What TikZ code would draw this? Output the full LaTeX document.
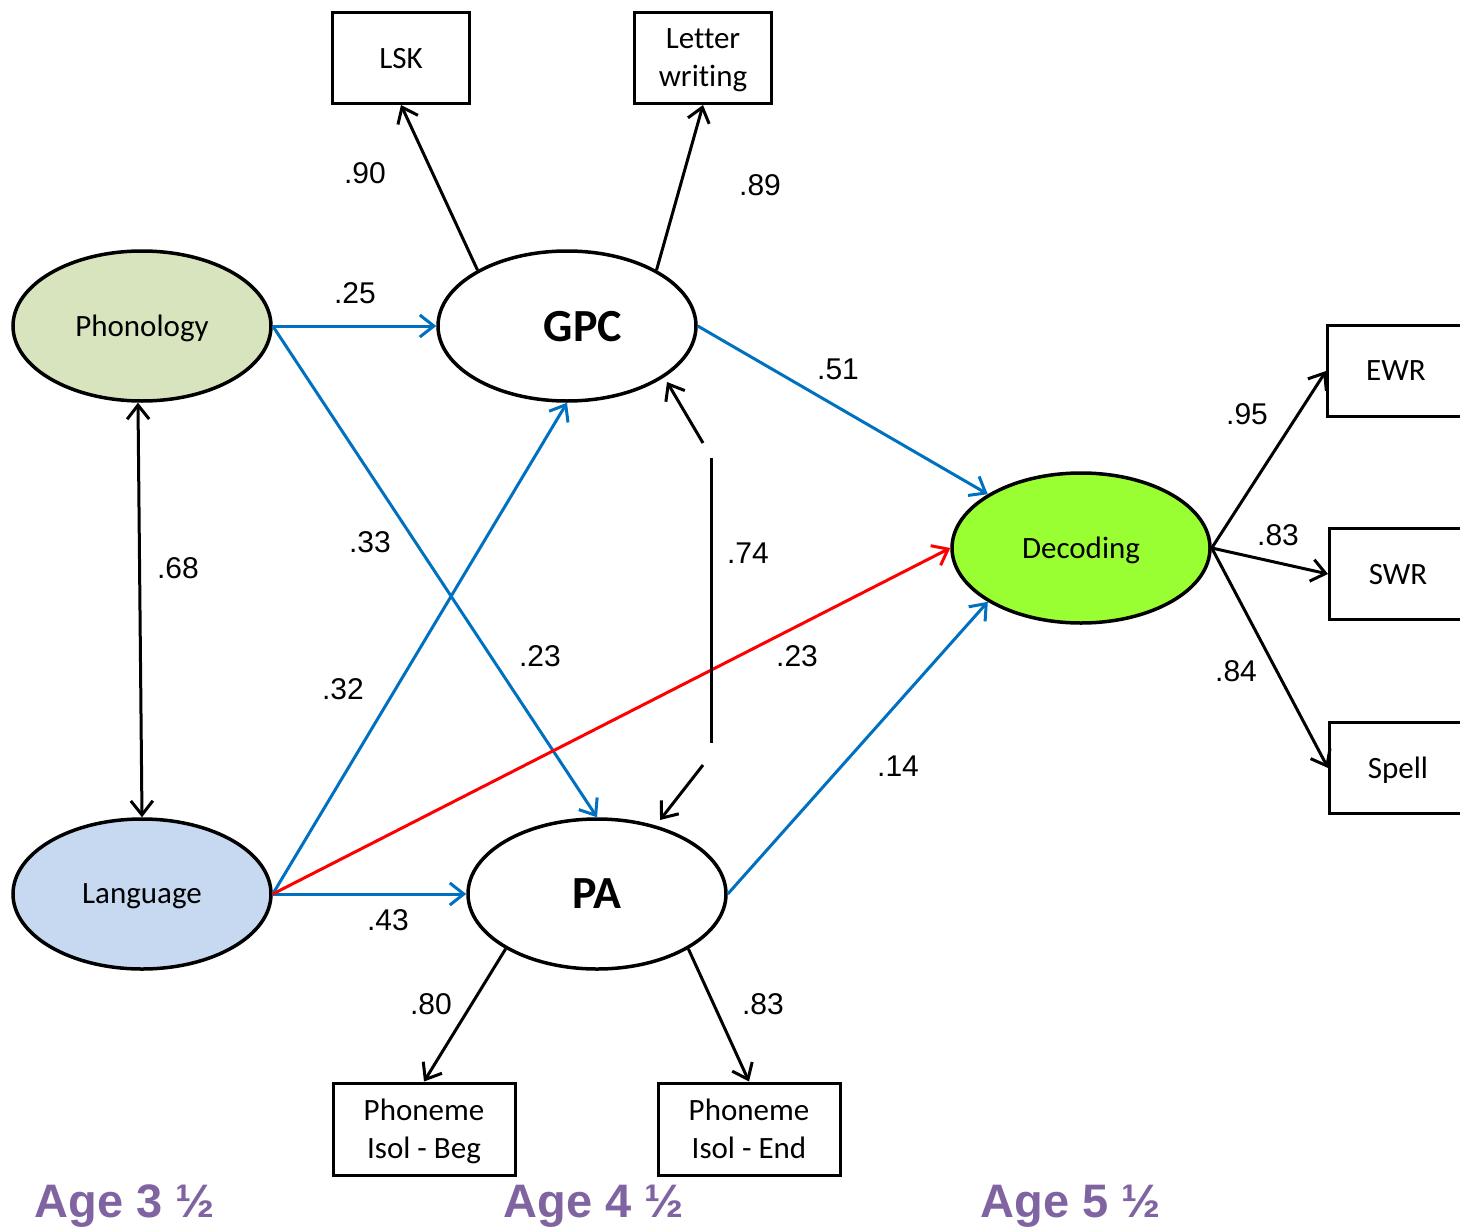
\documentclass[tikz,border=0pt]{standalone}
\usepackage{fontspec}
\setmainfont{Carlito}[Ligatures={NoCommon}]
\newfontfamily\arialf{Liberation Sans}
\usetikzlibrary{shapes.geometric,arrows.meta}
\definecolor{myblue}{HTML}{0070C0}
\definecolor{myred}{HTML}{FF0000}
\definecolor{agepurple}{HTML}{8064A2}
\definecolor{phonfill}{HTML}{D7E4BD}
\definecolor{langfill}{HTML}{C6D9F1}
\definecolor{decfill}{HTML}{99FF33}
\begin{document}
\begin{tikzpicture}[x=0.5pt,y=-0.5pt,
  latent/.style={ellipse, draw, line width=1.75pt, minimum width=129pt, minimum height=75pt, inner sep=0pt, text depth=0pt, font=\fontsize{15.5}{19}\selectfont},
  bigtxt/.style={font=\bfseries\fontsize{23}{28}\selectfont},
  obs/.style={rectangle, draw, line width=1.5pt, minimum width=68.5pt, minimum height=45.5pt, inner sep=0pt, align=center, text depth=0pt, font=\fontsize{15.5}{19}\selectfont},
  wideobs/.style={obs, minimum width=91pt, minimum height=46pt},
  arr/.style={line width=1.5pt, -{Straight Barb[length=7pt,width=11pt]}},
  barr/.style={arr, draw=myblue},
  rarr/.style={arr, draw=myred},
  dblarr/.style={line width=1.5pt, {Straight Barb[length=7pt,width=11pt]}-{Straight Barb[length=7pt,width=11pt]}},
  coef/.style={font=\arialf\fontsize{15}{18}\selectfont, inner sep=0pt},
  age/.style={font=\arialf\bfseries\fontsize{23.5}{28}\selectfont, text=agepurple, inner sep=0pt, anchor=base}
]
\useasboundingbox (0,0) rectangle (1460,1230);
\clip (0,0) rectangle (1460,1230);

% latent variables
\node[latent, fill=phonfill] (phon) at (142,326) {Phonology};
\node[latent, fill=langfill] (lang) at (142,894) {Language};
\node[latent, bigtxt] (gpc) at (567,326) {\hspace*{16pt}GPC};
\node[latent, bigtxt] (pa) at (597,894) {PA};
\node[latent, fill=decfill] (dec) at (1081,548) {Decoding};

% observed variables
\node[obs] (lsk) at (401,58) {LSK};
\node[obs] (lw) at (703,58) {Letter\\writing};
\node[obs] (ewr) at (1396,371) {EWR};
\node[obs] (swr) at (1398,574) {SWR};
\node[obs] (spell) at (1398,768) {Spell};
\node[wideobs] (beg) at (424,1129) {Phoneme\\Isol - Beg};
\node[wideobs] (pend) at (749,1129) {Phoneme\\Isol - End};

% measurement paths
\draw[arr] (gpc.148) -- (lsk.south);
\draw[arr] (gpc.32) -- (lw.south);
\draw[arr] (pa.211) -- (beg.north);
\draw[arr] (pa.329) -- (pend.north);
\draw[arr] (dec.east) -- (ewr.west);
\draw[arr] (dec.east) -- (swr.west);
\draw[arr] (dec.east) -- (spell.west);

% structural paths
\draw[barr] (phon.east) -- (gpc.west);
\draw[barr] (phon.east) -- (pa.north);
\draw[barr] (lang.east) -- (gpc.south);
\draw[barr] (lang.east) -- (pa.west);
\draw[rarr] (lang.east) -- (dec.west);
\draw[barr] (gpc.east) -- (dec.150);
\draw[barr] (pa.east) -- (dec.210);

% correlations
\draw[dblarr] (phon.267) -- (lang.north);
\coordinate (ka) at (703,443);
\coordinate (kat) at (667,382);
\coordinate (kb) at (711,458);
\coordinate (kc) at (711,743);
\coordinate (kd) at (703,765);
\coordinate (kdt) at (660,820);
\draw[arr] (ka) -- (kat);
\draw[line width=1.5pt] (kb) -- (kc);
\draw[arr] (kd) -- (kdt);

% coefficients
\node[coef] (c90) at (365,173) {.90};
\node[coef] (c89) at (760,185) {.89};
\node[coef] (c25) at (355,293) {.25};
\node[coef] (c51) at (838,369) {.51};
\node[coef] (c95) at (1247,414) {.95};
\node[coef] (c83a) at (1278,535) {.83};
\node[coef] (c84) at (1236,671) {.84};
\node[coef] (c33) at (370,542) {.33};
\node[coef] (c68) at (178,568) {.68};
\node[coef] (c74) at (748,553) {.74};
\node[coef] (c23a) at (540,656) {.23};
\node[coef] (c23b) at (797,656) {.23};
\node[coef] (c32) at (343,689) {.32};
\node[coef] (c14) at (898,766) {.14};
\node[coef] (c43) at (388,920) {.43};
\node[coef] (c80) at (431,1004) {.80};
\node[coef] (c83b) at (763,1004) {.83};

% ages
\node[age] (age3) at (125,1217) {Age 3 ½};
\node[age] (age4) at (594,1217) {Age 4 ½};
\node[age] (age5) at (1071,1217) {Age 5 ½};
\end{tikzpicture}
\end{document}
